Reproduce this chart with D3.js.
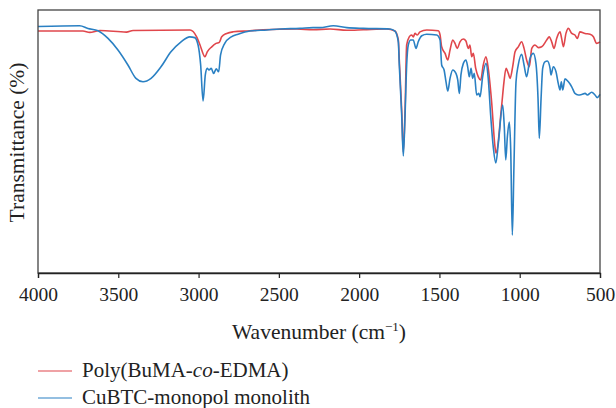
<!DOCTYPE html>
<html>
<head>
<meta charset="utf-8">
<script src="https://cdn.jsdelivr.net/npm/d3@7"></script>
<style>
  body { margin: 0; background: #fff; }
  svg text { font-family: "Liberation Serif", "DejaVu Serif", serif; fill: #222; }
</style>
</head>
<body>
<svg id="drawing_region"></svg>
<script>
// wavenumber (cm-1) and transmittance
const polyWave = [4000, 3720, 3678, 3614, 3449, 3408, 3053, 3012, 2991, 2960, 2946, 2918, 2891, 2871, 2856, 2825, 2784, 2680, 2599, 2389, 2287, 2181, 2077, 1974, 1828, 1777, 1756, 1750, 1735, 1725, 1714, 1704, 1688, 1673, 1663, 1652, 1638, 1621, 1579, 1507, 1496, 1486, 1465, 1448, 1434, 1417, 1403, 1389, 1372, 1351, 1335, 1320, 1310, 1299, 1289, 1274, 1258, 1243, 1227, 1210, 1196, 1175, 1154, 1148, 1112, 1098, 1085, 1071, 1060, 1044, 1029, 1009, 988, 973, 957, 940, 925, 905, 884, 863, 832, 816, 801, 786, 770, 749, 739, 728, 712, 697, 676, 656, 641, 625, 593, 562, 541, 521, 500];
const polyT = [92.0, 92.0, 91.5, 92.2, 91.6, 92.2, 92.4, 89.8, 86.7, 82.2, 84.1, 86.0, 87.3, 87.7, 89.8, 91.1, 91.7, 92.1, 92.5, 92.8, 92.5, 92.8, 92.3, 92.5, 92.8, 92.0, 88.6, 81.0, 62.0, 46.0, 62.0, 86.7, 89.8, 90.5, 89.8, 91.1, 90.5, 91.7, 92.4, 92.1, 90.5, 86.0, 83.5, 81.0, 84.8, 88.6, 87.3, 85.4, 87.9, 89.0, 88.2, 85.4, 86.7, 82.2, 83.5, 77.8, 74.6, 73.4, 79.1, 82.2, 77.8, 65.1, 48.0, 45.6, 63.9, 72.7, 77.8, 75.9, 74.0, 78.4, 84.1, 86.0, 87.9, 85.4, 81.0, 78.4, 85.4, 86.7, 85.7, 86.0, 88.6, 89.8, 87.9, 85.4, 89.2, 91.7, 89.2, 86.0, 91.1, 93.0, 91.1, 90.5, 89.2, 91.7, 91.1, 90.8, 89.8, 87.3, 87.9];

const cuWave = [4000, 3740, 3689, 3626, 3564, 3502, 3440, 3390, 3346, 3296, 3234, 3172, 3109, 3055, 3024, 3003, 2987, 2972, 2958, 2946, 2935, 2921, 2906, 2890, 2875, 2863, 2837, 2796, 2754, 2680, 2574, 2493, 2368, 2287, 2244, 2161, 2077, 1974, 1808, 1777, 1756, 1750, 1735, 1725, 1714, 1704, 1694, 1679, 1663, 1646, 1632, 1610, 1579, 1517, 1496, 1486, 1471, 1459, 1448, 1434, 1417, 1397, 1386, 1376, 1366, 1351, 1335, 1324, 1314, 1303, 1293, 1283, 1268, 1255, 1247, 1231, 1210, 1196, 1181, 1164, 1149, 1133, 1106, 1096, 1087, 1077, 1065, 1056, 1046, 1036, 1023, 1009, 988, 973, 957, 936, 915, 899, 886, 878, 867, 857, 843, 828, 811, 805, 791, 774, 760, 749, 741, 732, 718, 697, 676, 656, 635, 614, 593, 579, 552, 531, 517, 500];
const cuT = [93.7, 94.0, 93.0, 92.1, 89.2, 84.8, 79.1, 74.0, 72.7, 74.0, 78.4, 84.1, 87.9, 89.8, 89.5, 86.7, 79.1, 65.4, 75.3, 77.8, 77.2, 77.8, 75.9, 77.6, 76.5, 82.9, 87.3, 89.8, 90.8, 92.0, 92.4, 92.8, 93.0, 93.3, 93.3, 94.0, 93.3, 93.0, 92.8, 92.0, 87.9, 79.1, 60.1, 44.5, 60.1, 79.1, 86.7, 88.6, 88.6, 85.4, 87.9, 90.2, 90.8, 90.5, 88.6, 79.1, 77.2, 72.7, 69.2, 74.0, 77.2, 75.9, 73.4, 68.3, 75.3, 79.7, 81.0, 78.4, 74.6, 77.8, 74.0, 75.9, 67.7, 68.3, 67.0, 74.6, 79.7, 74.0, 60.1, 47.5, 41.8, 49.4, 63.9, 55.5, 43.0, 51.7, 57.4, 46.8, 14.4, 40.3, 72.7, 79.1, 83.2, 79.1, 74.6, 81.6, 83.5, 79.7, 66.4, 51.2, 66.4, 77.8, 80.3, 80.6, 77.8, 75.3, 78.4, 76.5, 72.1, 69.6, 72.7, 69.6, 73.8, 72.7, 70.8, 68.3, 67.7, 67.9, 68.3, 67.7, 68.7, 67.7, 66.7, 67.9];

const xTicks = [4000, 3500, 3000, 2500, 2000, 1500, 1000, 500];
const seriesNames = ["Poly(BuMA-co-EDMA)", "CuBTC-monopol monolith"];
const seriesColors = ["#e0474c", "#2a80c3"];

const W = 616, H = 408;
const margin = { left: 38, right: 16, top: 10, bottom: 135 };
const iw = W - margin.left - margin.right;
const ih = H - margin.top - margin.bottom;

const svg = d3.select("#drawing_region")
    .attr("width", W)
    .attr("height", H);

const x = d3.scaleLinear().domain([4000, 500]).range([margin.left, margin.left + iw]);
const y = d3.scaleLinear().domain([0, 100]).range([margin.top + ih, margin.top]);

const series = [
    { name: seriesNames[0], color: seriesColors[0], pts: polyWave.map((w, i) => [w, polyT[i]]) },
    { name: seriesNames[1], color: seriesColors[1], pts: cuWave.map((w, i) => [w, cuT[i]]) }
];

const line = d3.line()
    .x(d => x(d[0]))
    .y(d => y(d[1]))
    .curve(d3.curveMonotoneX);

svg.append("g")
    .selectAll("path")
    .data(series)
    .enter()
    .append("path")
    .attr("d", d => line(d.pts.slice().sort((a, b) => b[0] - a[0])))
    .attr("fill", "none")
    .attr("stroke", d => d.color)
    .attr("stroke-width", 1.6)
    .attr("stroke-linejoin", "round");

// frame
svg.append("rect")
    .attr("x", margin.left)
    .attr("y", margin.top)
    .attr("width", iw)
    .attr("height", ih)
    .attr("fill", "none")
    .attr("stroke", "#444")
    .attr("stroke-width", 1.3);

const xAxis = svg.append("g")
    .attr("transform", `translate(0, ${margin.top + ih})`)
    .call(d3.axisBottom(x).tickValues(xTicks).tickSize(5).tickPadding(9).tickFormat(d3.format("d")));
xAxis.select(".domain").attr("stroke", "#222").attr("stroke-width", 1.3);
xAxis.selectAll(".tick line").attr("stroke", "#222").attr("stroke-width", 1.2);
xAxis.selectAll(".tick text")
    .attr("font-size", "19.5px")
    .attr("font-family", "Liberation Serif, serif")
    .attr("fill", "#222");

const xt = svg.append("text")
    .attr("x", margin.left + iw / 2)
    .attr("y", 339)
    .attr("text-anchor", "middle")
    .attr("font-size", "21.5px");
xt.append("tspan").text("Wavenumber (cm");
xt.append("tspan").text("\u22121").attr("font-size", "13px").attr("dy", "-8");
xt.append("tspan").text(")").attr("dy", "8");

svg.append("text")
    .attr("transform", `translate(24, ${margin.top + ih / 2 + 1}) rotate(-90)`)
    .attr("text-anchor", "middle")
    .attr("font-size", "21.5px")
    .text("Transmittance (%)");

// legend
const legend = svg.append("g");
const rows = [371, 398];
series.forEach((s, i) => {
    legend.append("line")
        .attr("x1", 38).attr("x2", 72)
        .attr("y1", rows[i]).attr("y2", rows[i])
        .attr("stroke", s.color)
        .attr("stroke-width", 1.2);
    const t = legend.append("text")
        .attr("x", 82)
        .attr("y", rows[i] + 6)
        .attr("font-size", "21px");
    if (i === 0) {
        t.append("tspan").text("Poly(BuMA-");
        t.append("tspan").text("co").attr("font-style", "italic");
        t.append("tspan").text("-EDMA)");
    } else {
        t.text(s.name);
    }
});
</script>
</body>
</html>
